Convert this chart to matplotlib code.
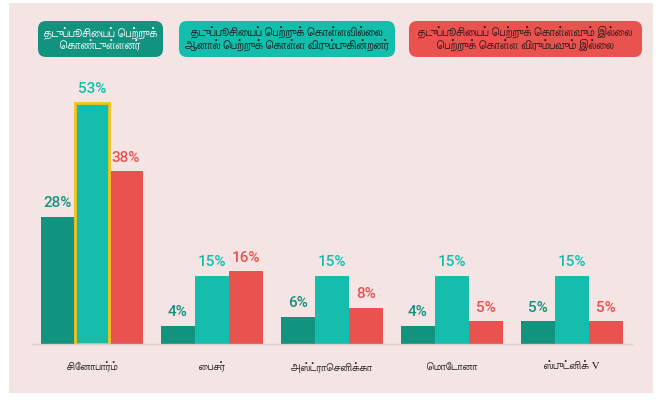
import matplotlib
matplotlib.use("Agg")
import matplotlib.pyplot as plt
import numpy as np
from matplotlib.patches import Rectangle, FancyBboxPatch

categories = ['சினோபார்ம்', 'பைசர்', 'அஸ்ட்ராசெனிக்கா', 'மொடோனா', 'ஸ்புட்னிக் V']
got_vaccine = [28, 4, 6, 4, 5]
want_vaccine = [53, 15, 15, 15, 15]
no_vaccine = [38, 16, 8, 5, 5]
series_names = ['தடுப்பூசியைப் பெற்றுக்\nகொண்டுள்ளனர்',
                'தடுப்பூசியைப் பெற்றுக் கொள்ளவில்லை\nஆனால் பெற்றுக் கொள்ள விரும்புகின்றனர்',
                'தடுப்பூசியைப் பெற்றுக் கொள்ளவும் இல்லை\nபெற்றுக் கொள்ள விரும்பவும் இல்லை']

colors = ['#12937f', '#14bdac', '#e8524f']
label_colors = ['#17907f', '#14bdac', '#e8524f']
text_colors = ['white', '#1a1a1a', '#2a1a1a']
bg = '#f4e4e4'
tamil = ['FreeSerif', 'DejaVu Serif']
numfont = ['Roboto', 'DejaVu Sans']


# matplotlib does no text shaping, so move Tamil pre-base vowel signs
# in front of their consonant (visual order) before drawing
PRE = {'\u0bc6': ('\u0bc6', ''), '\u0bc7': ('\u0bc7', ''), '\u0bc8': ('\u0bc8', ''),
       '\u0bca': ('\u0bc6', '\u0bbe'), '\u0bcb': ('\u0bc7', '\u0bbe'),
       '\u0bcc': ('\u0bc6', '\u0bd7')}


def visual(s):
    out = []
    for ch in s:
        if ch in PRE and out and '\u0b95' <= out[-1] <= '\u0bb9':
            pre, post = PRE[ch]
            cons = out.pop()
            out.extend([pre, cons])
            if post:
                out.append(post)
        else:
            out.append(ch)
    return ''.join(out)


fig = plt.figure(figsize=(6.6, 4.0), dpi=100)
fig.patch.set_facecolor('white')
fig.patches.append(Rectangle((9 / 660, 7 / 400), 644 / 660, 390 / 400,
                             transform=fig.transFigure, facecolor=bg,
                             edgecolor='none', zorder=-10))

ax = fig.add_axes([32 / 660, 56 / 400, 600 / 660, 273 / 400])
ax.set_facecolor('none')
ax.set_xlim(-0.5, 4.5)
ax.set_ylim(0, 60)

x = np.arange(len(categories))
w = 34 / 120
series = [got_vaccine, want_vaccine, no_vaccine]
for k, vals in enumerate(series):
    pos = x + (k - 1) * w
    ax.bar(pos, vals, w, color=colors[k], edgecolor='none', zorder=2)
    for xi, v in zip(pos, vals):
        ax.text(xi, v + 1.4, '%d%%' % v, ha='center', va='bottom',
                fontsize=11, fontweight='medium', family=numfont,
                color=label_colors[k])

# highlight Sinopharm "want" bar
ax.bar(x[0], want_vaccine[0], w, facecolor='none', edgecolor='#f6c21c',
       linewidth=2, zorder=3)

for s in ['top', 'right', 'left']:
    ax.spines[s].set_visible(False)
ax.spines['bottom'].set_color('#dccfcf')
ax.spines['bottom'].set_linewidth(1)
ax.set_yticks([])
ax.set_xticks(x)
ax.set_xticklabels([visual(c) for c in categories], family=tamil, fontsize=7.8, color='#222222')
ax.tick_params(axis='x', length=0, pad=13)

# header boxes
boxes = [(38, 163), (179, 395), (409, 642)]
for k, (x0, x1) in enumerate(boxes):
    y0, y1 = 343, 379
    fig.patches.append(FancyBboxPatch((x0 / 660, y0 / 400), (x1 - x0) / 660, (y1 - y0) / 400,
                                      boxstyle='round,pad=0,rounding_size=0.012',
                                      transform=fig.transFigure, facecolor=colors[k],
                                      edgecolor='none', zorder=1,
                                      mutation_aspect=660 / 400))
    fig.text((x0 + x1) / 2 / 660, (y0 + y1) / 2 / 400, visual(series_names[k]),
             ha='center', va='center', fontsize=8.3, family=tamil,
             color=text_colors[k], linespacing=1.05, zorder=2)

fig.savefig('out.png', dpi=100, facecolor=fig.get_facecolor())
